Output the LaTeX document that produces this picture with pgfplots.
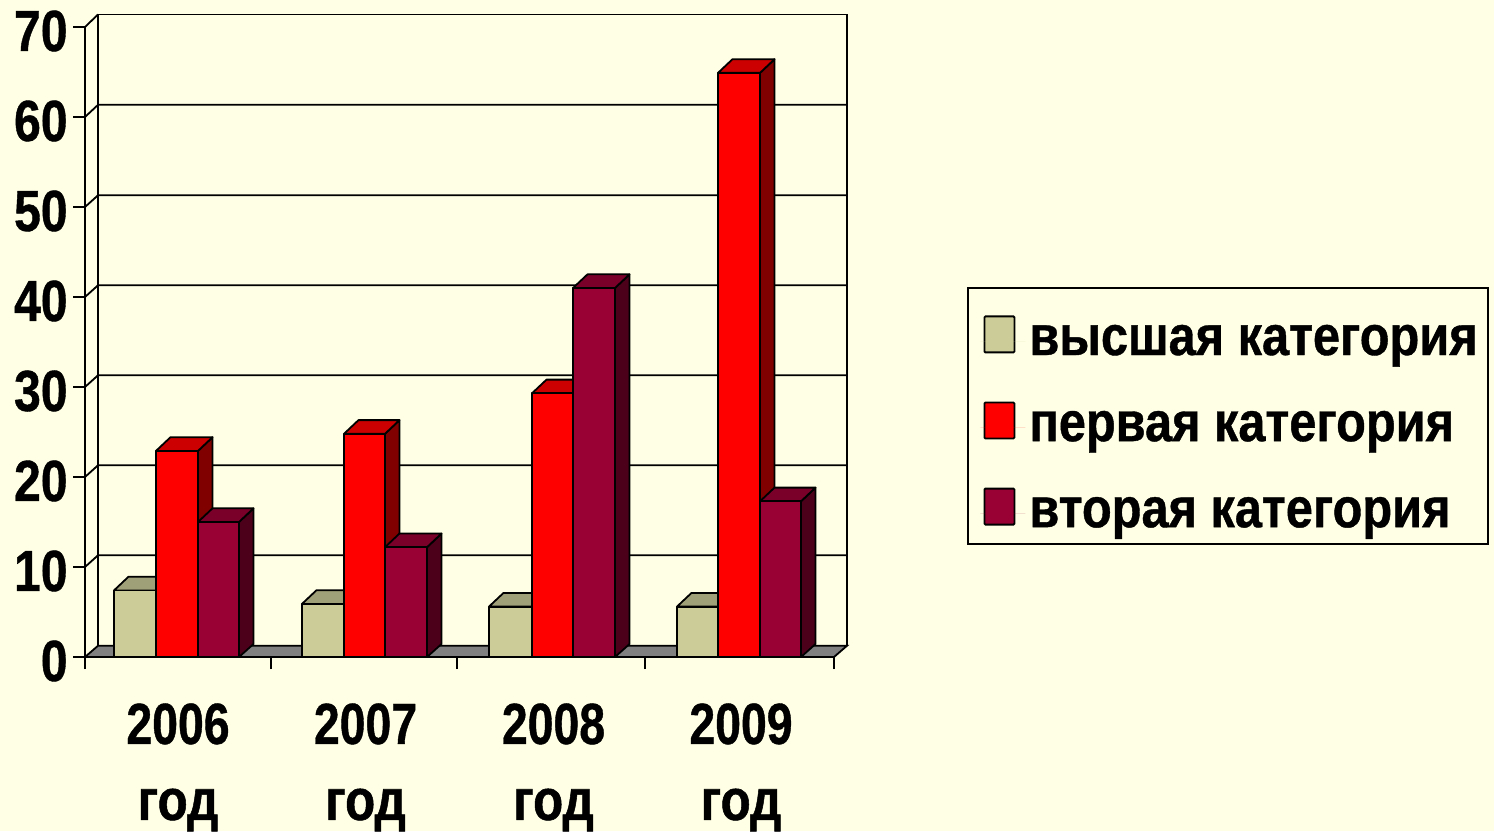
\documentclass[border=0pt]{standalone}
\usepackage{pgfplots}
\usepackage{fontspec}
\pgfplotsset{compat=1.18}
\setmainfont{Liberation Sans}
\newfontfamily\lab[FakeStretch=0.83,FakeBold=0.7]{Liberation Sans Bold}
\newfontfamily\yr[FakeStretch=0.8,FakeBold=0.7]{Liberation Sans Bold}
\newfontfamily\godf[FakeStretch=0.85,FakeBold=0.9]{Liberation Sans Bold}
\newfontfamily\leg[FakeStretch=0.87,FakeBold=0.7]{Liberation Sans Bold}
\definecolor{bgc}{RGB}{255,255,229}
\definecolor{beigeF}{RGB}{204,204,153}
\definecolor{beigeT}{RGB}{160,160,120}
\definecolor{beigeS}{RGB}{122,122,92}
\definecolor{redF}{RGB}{255,0,0}
\definecolor{redT}{RGB}{204,0,0}
\definecolor{redS}{RGB}{128,0,0}
\definecolor{crimF}{RGB}{153,0,51}
\definecolor{crimT}{RGB}{122,0,41}
\definecolor{crimS}{RGB}{77,0,26}
\newcommand\onebar[4]{%
 \pgfmathsetmacro\xa{#1+14.5}\pgfmathsetmacro\xb{#2+14.5}\pgfmathsetmacro\vb{#3+1.52}%
 \edef\tmp{\noexpand\addplot[forget plot,draw=black,fill=#4S,line width=.9pt,line join=round] coordinates {(#2,0)(\xb,1.44)(\xb,\vb)(#2,#3)} --cycle;
 \noexpand\addplot[forget plot,draw=black,fill=#4T,line width=.9pt,line join=round] coordinates {(#1,#3)(\xa,\vb)(\xb,\vb)(#2,#3)} --cycle;
 \noexpand\addplot[forget plot,draw=black,fill=#4F,line width=.9pt,line join=round] coordinates {(#1,0)(#2,0)(#2,#3)(#1,#3)} --cycle;}%
 \tmp}
\begin{document}
\begin{tikzpicture}[x=1pt,y=1pt]
\path[use as bounding box] (0,0) rectangle (747,415.5);
\fill[bgc] (0,0) rectangle (747,415.5);
\begin{axis}[
 at={(42.5pt,87pt)},anchor=south west,
 scale only axis,width=374.5pt,height=315pt,
 xmin=85,xmax=834,ymin=0,ymax=70,clip=false,
 axis x line=bottom,axis y line=left,
 axis line style={-,black,line width=.9pt},
 xtick={85,271,457,645,834},xticklabels={},
 ytick={0,10,20,30,40,50,60,70},
 major tick length=6pt,
 tick align=outside,
 tick style={black,line width=.9pt},
 y tick label style={font=\lab\fontsize{29}{29}\selectfont,inner sep=0pt,/pgf/number format/assume math mode=true,yshift=-2pt,xshift=-2.5pt},
 extra x ticks={178,365.5,553.5,741},
 extra x tick labels={{\yr 2006\\[4pt]\godf год},{\yr 2007\\[4pt]\godf год},{\yr 2008\\[4pt]\godf год},{\yr 2009\\[4pt]\godf год}},
 extra x tick style={major tick style={draw=none},major tick length=0pt,
   tick label style={font=\fontsize{29}{34}\selectfont,align=center,anchor=north,yshift=-23pt,inner sep=0pt}},
 legend style={at={(axis cs:968,39.99)},anchor=north west,draw=none,fill=none,
   font=\leg\fontsize{28}{28}\selectfont,row sep=19.8pt,inner xsep=6pt,inner ysep=9pt},
 legend cell align=left,
 legend image code/.code={\draw[#1,line width=.9pt,rounded corners=.5pt] (2pt,-5.5pt) rectangle (17pt,12.5pt);\path[draw=none] (0pt,0pt) -- (22.5pt,0pt);},
]
% back wall
\addplot[forget plot,black,line width=.9pt] coordinates {(98,1.3)(98,71.39)(847,71.39)(847,1.3)};
% grid on the wall with slanted tick links
\addplot[forget plot,black,line width=.9pt] coordinates {(85,10)(98,11.3)(847,11.3)};
\addplot[forget plot,black,line width=.9pt] coordinates {(85,20)(98,21.3)(847,21.3)};
\addplot[forget plot,black,line width=.9pt] coordinates {(85,30)(98,31.3)(847,31.3)};
\addplot[forget plot,black,line width=.9pt] coordinates {(85,40)(98,41.3)(847,41.3)};
\addplot[forget plot,black,line width=.9pt] coordinates {(85,50)(98,51.3)(847,51.3)};
\addplot[forget plot,black,line width=.9pt] coordinates {(85,60)(98,61.35)(847,61.35)};
\addplot[forget plot,black,line width=.9pt] coordinates {(85,70)(98,71.39)};
% floor
\addplot[forget plot,draw=black,fill=gray,line width=.9pt] coordinates {(85,0)(98,1.25)(847,1.25)(834,0)} --cycle;
% bars: left, right, value, colour
\onebar{114}{156}{7.4}{beige}
\onebar{156}{198}{22.9}{red}
\onebar{198}{239}{15}{crim}
\onebar{302}{344}{5.9}{beige}
\onebar{344}{385}{24.8}{red}
\onebar{385}{427}{12.2}{crim}
\onebar{489}{532}{5.6}{beige}
\onebar{532}{573}{29.3}{red}
\onebar{573}{615}{41}{crim}
\onebar{677}{718}{5.6}{beige}
\onebar{718}{760}{64.9}{red}
\onebar{760}{801}{17.3}{crim}
% legend frame
\draw[black,line width=.9pt] (axis cs:968,41) rectangle (axis cs:1488,12.56);
\addlegendimage{fill=beigeF}\addlegendentry{высшая категория}
\addlegendimage{fill=redF}\addlegendentry{первая категория}
\addlegendimage{fill=crimF}\addlegendentry{вторая категория}
\end{axis}
\end{tikzpicture}
\end{document}
